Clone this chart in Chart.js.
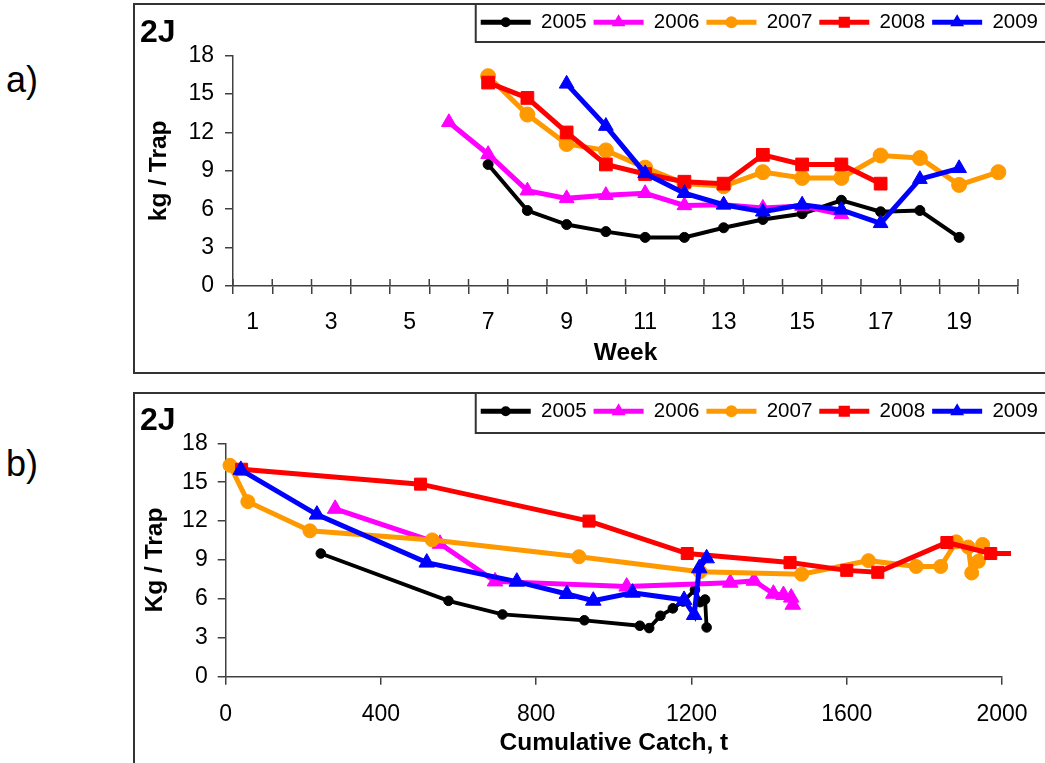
<!DOCTYPE html>
<html><head><meta charset="utf-8">
<script src="https://cdn.jsdelivr.net/npm/chart.js@4.4.0/dist/chart.umd.min.js"></script>
<style>
html,body{margin:0;padding:0;background:#fff;width:1045px;height:763px;overflow:hidden;font-family:"Liberation Sans",Arial,sans-serif;}
.frame{position:absolute;border:2px solid #333;box-sizing:border-box;}
.lbl{position:absolute;font-size:36px;line-height:1;color:#000;}
.tag{position:absolute;font-weight:bold;font-size:32px;line-height:1;color:#000;}
.box{position:absolute;}
</style></head><body>
<div class="lbl" style="left:6px;top:62px">a)</div>
<div class="lbl" style="left:6px;top:446px">b)</div>
<div class="frame" style="left:133px;top:3px;width:925px;height:371px"></div>
<div class="frame" style="left:133px;top:392px;width:925px;height:390px"></div>
<div class="box" style="left:135px;top:5px;width:910px;height:367px"><canvas id="c1"></canvas></div>
<div class="box" style="left:135px;top:394px;width:910px;height:369px"><canvas id="c2"></canvas></div>
<div class="tag" style="left:140px;top:15px">2J</div>
<div class="tag" style="left:140px;top:403px">2J</div>
<script>
// ---------- data ----------
const weeks = ['1','2','3','4','5','6','7','8','9','10','11','12','13','14','15','16','17','18','19','20'];
const years = ['2005','2006','2007','2008','2009'];
// a) kg/trap by week (index = week-1)
const kgWeek2005 = [null,null,null,null,null,null,9.5,5.9,4.8,4.25,3.8,3.8,4.55,5.2,5.65,6.7,5.8,5.9,3.8,null];
const kgWeek2006 = [null,null,null,null,null,12.8,10.3,7.45,6.85,7.1,7.25,6.3,6.35,6.1,6.25,5.6,null,null,null,null];
const kgWeek2007 = [null,null,null,null,null,null,16.4,13.4,11.1,10.6,9.25,8.0,7.8,8.9,8.45,8.45,10.2,10.0,7.9,8.9];
const kgWeek2008 = [null,null,null,null,null,null,15.9,14.7,12.0,9.5,8.75,8.15,8.0,10.25,9.5,9.5,8.0,null,null,null];
const kgWeek2009 = [null,null,null,null,null,null,null,null,15.8,12.5,8.8,7.25,6.35,5.8,6.35,5.95,4.9,8.35,9.2,null];
// b) kg/trap vs cumulative catch (t)
const cum2005 = [245,574,713,924,1067,1091,1120,1152,1178,1209,1222,1235,1239];
const kgCum2005 = [9.5,5.85,4.8,4.35,3.93,3.75,4.7,5.27,5.8,6.7,5.75,5.95,3.8];
const cum2006 = [282,552,694,1033,1300,1361,1411,1437,1457,1461];
const kgCum2006 = [12.95,10.25,7.35,6.95,7.25,7.4,6.4,6.3,6.1,5.55];
const cum2007 = [11,57,217,532,910,1222,1484,1656,1779,1842,1882,1913,1922,1939,1950];
const kgCum2007 = [16.3,13.5,11.25,10.55,9.25,8.1,7.9,8.95,8.5,8.5,10.4,10.0,8.0,8.9,10.2];
const cum2008 = [41,502,936,1189,1454,1600,1680,1858,1971,2060];
const kgCum2008 = [16.0,14.85,12.0,9.5,8.8,8.2,8.05,10.35,9.5,9.5];
const cum2009 = [39,235,518,750,879,947,1048,1181,1207,1220,1239];
const kgCum2009 = [15.95,12.5,8.8,7.33,6.38,5.86,6.48,5.92,4.76,8.36,9.13];
const yTicks = [0,3,6,9,12,15,18];
const xCumTicks = [0,400,800,1200,1600,2000];

// ---------- styles ----------
const colors = ['#000000','#FF00FF','#FF9900','#FF0000','#0000FF'];
const pStyles = ['circle','triangle','circle','rect','triangle'];
const radA = [5,8.5,7.5,9,8.5];
const radB = [4.8,9,7,8.5,9];
const lwA = [4,5,5,5,5];
const lwB = [3.8,5,5,5,5];
const legRad = [4,6,5,6.5,6];
const FONT = '"Liberation Sans", Arial, sans-serif';
const AX = '#404040';

const pair = (xs, ys) => xs.map((x, i) => ({x: x, y: ys[i]}));

function mkDataset(i, data, rad, lw, clip) {
  return {
    label: years[i], data: data,
    borderColor: colors[i], backgroundColor: colors[i],
    borderWidth: lw, pointStyle: pStyles[i], pointRadius: rad,
    pointBorderWidth: 1, pointBorderColor: colors[i], pointBackgroundColor: colors[i],
    tension: 0, fill: false, order: 5 - i, clip: clip === undefined ? false : clip
  };
}

const legendPlugin = (topH, frameH) => ({
  id: 'legendTweaks',
  beforeInit(chart) {
    const fit = chart.legend.fit;
    chart.legend.fit = function () { fit.call(this); this.height = topH; };
  },
  afterDraw(chart) {
    const lg = chart.legend, ctx = chart.ctx;
    const hb = lg.legendHitBoxes;
    if (!hb || !hb.length) return;
    const bw = lg.options.labels.boxWidth;
    ctx.save();
    ctx.strokeStyle = '#333'; ctx.lineWidth = 2;
    ctx.strokeRect(hb[0].left - 5, -2, chart.width - hb[0].left + 20, frameH + 2);
    hb.forEach((h, i) => {
      const cx = h.left + bw / 2, cy = h.top + h.height / 2;
      ctx.fillStyle = colors[i]; ctx.strokeStyle = colors[i];
      Chart.helpers.drawPoint(ctx, {pointStyle: pStyles[i], radius: legRad[i], borderWidth: 1, rotation: 0}, cx, cy);
    });
    ctx.restore();
  }
});

const legendOpts = {
  display: true, position: 'top', align: 'end',
  labels: {
    boxWidth: 50, boxHeight: 5, padding: 7, color: '#000',
    font: {family: FONT, size: 20.5},
    generateLabels(chart) {
      return chart.data.datasets.map((d, i) => ({
        text: d.label, fillStyle: colors[i], strokeStyle: colors[i], lineWidth: 0,
        hidden: false, datasetIndex: i, fontColor: '#000'
      }));
    }
  }
};

const gridOpts = {display: true, drawOnChartArea: false, drawTicks: true, tickLength: 8, color: AX, lineWidth: 1.5};
const borderOpts = {display: true, color: AX, width: 1.5};
const tickFont = {family: FONT, size: 23};
const titleFont = {family: FONT, size: 24.5, weight: 'bold'};

const innerTicks = {
  id: 'innerTicks',
  afterDraw(chart) {
    const s = chart.scales.x, ctx = chart.ctx;
    const step = s.getPixelForValue(1) - s.getPixelForValue(0);
    ctx.save(); ctx.strokeStyle = AX; ctx.lineWidth = 1.5;
    for (let i = 0; i <= weeks.length; i++) {
      const x = s.getPixelForValue(0) - step / 2 + i * step;
      ctx.beginPath(); ctx.moveTo(x, s.top - 7); ctx.lineTo(x, s.top); ctx.stroke();
    }
    ctx.restore();
  }
};

Chart.defaults.font.family = FONT;
Chart.defaults.color = '#000';

// ---------- chart a ----------
const weekSeries = [kgWeek2005, kgWeek2006, kgWeek2007, kgWeek2008, kgWeek2009];
new Chart(document.getElementById('c1'), {
  type: 'line',
  data: {labels: weeks, datasets: weekSeries.map((s, i) => mkDataset(i, s, radA[i], lwA[i]))},
  options: {
    responsive: true, maintainAspectRatio: false, animation: false,
    layout: {padding: 0},
    plugins: {legend: legendOpts, tooltip: {enabled: false}, title: {display: false}},
    scales: {
      x: {
        type: 'category', offset: true,
        grid: Object.assign({}, gridOpts, {offset: true}), border: borderOpts,
        ticks: {autoSkip: false, maxRotation: 0, padding: 15, font: tickFont,
          callback(v, idx) { return idx % 2 === 0 ? this.getLabelForValue(v) : ''; }},
        title: {display: true, text: 'Week', font: titleFont, padding: {top: 0, bottom: 4}},
        afterFit(s) { s.height = 86; }
      },
      y: {
        min: 0, max: 18, grid: gridOpts, border: borderOpts,
        afterBuildTicks(s) { s.ticks = yTicks.map(v => ({value: v})); },
        ticks: {padding: 11, font: tickFont, callback: v => String(v)},
        title: {display: true, text: 'kg / Trap', font: titleFont, padding: {top: 10, bottom: 0}},
        afterFit(s) { s.width = 98; }
      },
      yR: {
        position: 'right', display: true, grid: {display: false}, border: {display: false},
        ticks: {display: false}, afterFit(s) { s.width = 27; }
      }
    }
  },
  plugins: [legendPlugin(50.7, 37), innerTicks]
});

// ---------- chart b ----------
const cumX = [cum2005, cum2006, cum2007, cum2008, cum2009];
const cumY = [kgCum2005, kgCum2006, kgCum2007, kgCum2008, kgCum2009];
new Chart(document.getElementById('c2'), {
  type: 'line',
  data: {datasets: cumX.map((xs, i) => mkDataset(i, pair(xs, cumY[i]), radB[i], lwB[i],
    i === 3 ? {left: false, top: false, right: 9, bottom: false} : false))},
  options: {
    responsive: true, maintainAspectRatio: false, animation: false,
    layout: {padding: 0},
    plugins: {legend: legendOpts, tooltip: {enabled: false}, title: {display: false}},
    scales: {
      x: {
        type: 'linear', min: 0, max: 2000, grid: gridOpts, border: borderOpts,
        afterBuildTicks(s) { s.ticks = xCumTicks.map(v => ({value: v})); },
        ticks: {padding: 16, font: tickFont, maxRotation: 0, callback: v => String(v)},
        title: {display: true, text: 'Cumulative Catch, t', font: titleFont, padding: {top: 0, bottom: 5}},
        afterFit(s) { s.height = 86.3; }
      },
      y: {
        min: 0, max: 18, grid: gridOpts, border: borderOpts,
        afterBuildTicks(s) { s.ticks = yTicks.map(v => ({value: v})); },
        ticks: {padding: 10, font: tickFont, callback: v => String(v)},
        title: {display: true, text: 'Kg / Trap', font: titleFont, padding: {top: 6, bottom: 0}},
        afterFit(s) { s.width = 90.7; }
      },
      yR: {
        position: 'right', display: true, grid: {display: false}, border: {display: false},
        ticks: {display: false}, afterFit(s) { s.width = 43; }
      }
    }
  },
  plugins: [legendPlugin(49.3, 39)]
});
</script>
</body></html>
